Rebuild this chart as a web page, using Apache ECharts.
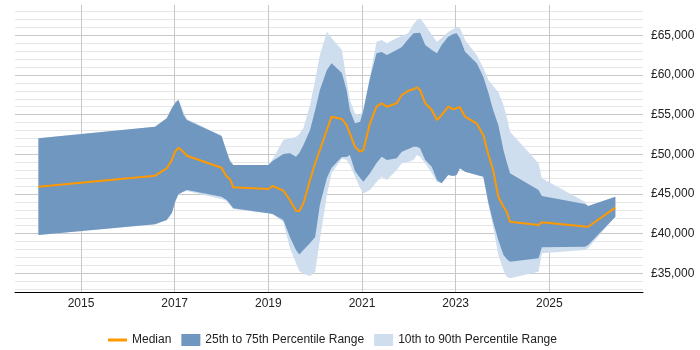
<!DOCTYPE html>
<html lang="en">
<head>
  <meta charset="utf-8">
</head>
<body style="margin: 0">
  <div id="container" style="width: 700px; height: 350px"></div>

  <script type="text/javascript" src="https://cdn.jsdelivr.net/npm/echarts@6/dist/echarts.min.js"></script>
  <script type="text/javascript">
// decimal years
var years = [2014.09, 2016.58, 2016.83, 2016.94, 2017.01, 2017.08, 2017.19, 2017.26, 2018.00, 2018.11,
  2018.18, 2018.25, 2019.00, 2019.09, 2019.32, 2019.46, 2019.59, 2019.66, 2019.75, 2019.89,
  2020.00, 2020.10, 2020.25, 2020.35, 2020.57, 2020.67, 2020.74, 2020.85, 2020.96, 2021.03,
  2021.17, 2021.31, 2021.42, 2021.53, 2021.74, 2021.85, 2021.99, 2022.10, 2022.17, 2022.24,
  2022.35, 2022.49, 2022.60, 2022.70, 2022.84, 2022.95, 2023.02, 2023.09, 2023.20, 2023.45,
  2023.59, 2023.70, 2023.80, 2023.91, 2024.02, 2024.09, 2024.16, 2024.77, 2024.84, 2025.76,
  2025.83, 2026.41];

var p10 = [39830, 41180, 41720, 42600, 44020, 44960, 45250, 45370, 44360, 44110,
  43610, 43100, 42540, 42470, 41470, 38190, 36300, 35290, 34910, 34660,
  35160, 39200, 44870, 47600, 49470, 49280, 48650, 47180, 45750, 45080,
  45500, 46510, 47180, 46760, 48020, 48860, 49030, 49280, 49910, 49700,
  48860, 47640, 46510, 46340, 47390, 47260, 47390, 48230, 47810, 47390,
  47180, 43610, 40870, 37310, 35410, 34570, 34370, 35200, 37520, 37940,
  38190, 42130];

var p25 = [39830, 41180, 41720, 42600, 44020, 44960, 45310, 45500, 44650, 44240,
  43730, 43190, 42560, 42470, 41720, 39570, 37940, 37370, 37940, 38820,
  39570, 43610, 47010, 48310, 49660, 49660, 49910, 47890, 47010, 46550,
  47600, 48900, 49700, 49280, 49490, 50330, 50670, 50960, 50960, 50760,
  49280, 48440, 46760, 46340, 47390, 47260, 47390, 48230, 47810, 47390,
  47180, 43860, 41470, 39200, 37310, 36800, 36460, 36890, 38280, 38350,
  38570, 42130];

var median = [45920, 47300, 48230, 49280, 50330, 50830, 50290, 49820, 48310, 47180,
  46890, 45840, 45630, 46000, 45410, 44240, 42890, 42850, 43820, 46760,
  48900, 50540, 53060, 54740, 54450, 53690, 52650, 50960, 50330, 50540,
  53910, 56000, 56430, 56000, 56430, 57470, 58020, 58190, 58450, 58110,
  56430, 55580, 54320, 54950, 56000, 55670, 55840, 55920, 54740, 53860,
  52430, 49910, 48020, 44650, 43390, 42760, 41500, 41090, 41430, 40900,
  40870, 43270];

var p75 = [52020, 53480, 54540, 55840, 56470, 56840, 54950, 54320, 52310, 50330,
  49150, 48650, 48650, 49150, 50040, 50130, 49700, 50160, 51170, 53060,
  55580, 58110, 60630, 61470, 60250, 58110, 55580, 53910, 54110, 55580,
  59580, 62730, 62900, 62520, 63150, 63530, 64530, 65250, 65290, 65330,
  63780, 63150, 62730, 63780, 64820, 65160, 65250, 64660, 62930, 61470,
  59780, 57730, 55580, 53690, 50540, 49030, 47600, 45500, 44740, 43730,
  43480, 44650];

var p90 = [52020, 53480, 54540, 55840, 56590, 56930, 55330, 54450, 52370, 50420,
  49280, 48650, 48650, 49370, 51800, 52020, 52180, 52560, 53310, 56210,
  59370, 62520, 65450, 64660, 63150, 59370, 56840, 55170, 54950, 55580,
  59800, 64190, 64410, 63990, 64660, 64910, 65290, 66420, 66930, 67140,
  66300, 65040, 64190, 64660, 65420, 65790, 66080, 65920, 64410, 62520,
  60880, 59370, 58610, 57850, 56210, 54700, 52850, 48860, 46970, 44030,
  43480, 44650];

var yearTicks = [2015, 2017, 2019, 2021, 2023, 2025];
var salaryTicks = [35000, 40000, 45000, 50000, 55000, 60000, 65000];
var minorTicks = [];
for (var v = 33000; v <= 68000; v += 1000) minorTicks.push(v);

function pairs(vals) {
  return years.map(function (x, i) { return [x, vals[i]]; });
}

// polygon between an upper and a lower percentile line
function bandRenderer(upper, lower, fill) {
  return function (params, api) {
    if (params.dataIndex !== 0) return;
    var pts = [];
    for (var i = 0; i < years.length; i++) pts.push(api.coord([years[i], upper[i]]));
    for (var j = years.length - 1; j >= 0; j--) pts.push(api.coord([years[j], lower[j]]));
    return {
      type: 'polygon',
      shape: { points: pts },
      style: { fill: fill }
    };
  };
}

var font = "'Liberation Sans', Arial, sans-serif";
var darkBand = '#7097bf';
var lightBand = '#cfdeee';

var dom = document.getElementById('container');
var myChart = echarts.init(dom, null, { renderer: 'canvas' });

var option = {
  animation: false,
  textStyle: { fontFamily: font },
  grid: { left: 15, right: 57, top: 5, bottom: 58 },
  legend: {
    top: 329,
    left: 103,
    itemWidth: 19,
    itemHeight: 12,
    itemGap: 10,
    textStyle: { fontFamily: font, fontSize: 12, color: '#222' },
    data: [
      { name: 'Median', icon: 'path://M0,0H19V3H0Z' },
      { name: '25th to 75th Percentile Range', icon: 'rect' },
      { name: '10th to 90th Percentile Range', icon: 'rect' }
    ]
  },
  xAxis: {
    type: 'value',
    min: 2013.59,
    max: 2027.0,
    axisLine: { show: true, lineStyle: { color: '#000', width: 1 } },
    axisTick: { show: false, customValues: yearTicks },
    axisLabel: {
      customValues: yearTicks,
      margin: 6,
      color: '#222',
      fontSize: 12,
      fontFamily: font,
      formatter: function (v) { return String(Math.round(v)); }
    },
    splitLine: { show: true, lineStyle: { color: '#c8c8c8', width: 1 } }
  },
  yAxis: [
    {
      type: 'value',
      position: 'right',
      min: 32640,
      max: 68820,
      axisLine: { show: false },
      axisTick: { show: false, customValues: minorTicks },
      axisLabel: {
        customValues: salaryTicks,
        margin: 8,
        color: '#222',
        fontSize: 12,
        fontFamily: font,
        formatter: function (v) {
          return '£' + String(Math.round(v)).replace(/\B(?=(\d{3})+(?!\d))/g, ',');
        }
      },
      splitLine: { show: true, lineStyle: { color: '#e6e6e6', width: 1 } }
    },
    {
      type: 'value',
      position: 'right',
      min: 32640,
      max: 68820,
      axisLine: { show: false },
      axisTick: { show: false, customValues: salaryTicks },
      axisLabel: { show: false },
      splitLine: { show: true, lineStyle: { color: '#c8c8c8', width: 1 } }
    }
  ],
  series: [
    {
      name: '10th to 90th Percentile Range',
      type: 'custom',
      renderItem: bandRenderer(p90, p10, lightBand),
      data: pairs(p90),
      encode: { x: 0, y: 1 },
      silent: true,
      color: lightBand,
      itemStyle: { color: lightBand }
    },
    {
      name: '25th to 75th Percentile Range',
      type: 'custom',
      renderItem: bandRenderer(p75, p25, darkBand),
      data: pairs(p75),
      encode: { x: 0, y: 1 },
      silent: true,
      color: darkBand,
      itemStyle: { color: darkBand }
    },
    {
      name: 'Median',
      type: 'line',
      data: pairs(median),
      symbol: 'none',
      color: '#ff9900',
      itemStyle: { color: '#ff9900' },
      lineStyle: { color: '#ff9900', width: 2 }
    }
  ]
};

myChart.setOption(option);
window.addEventListener('resize', myChart.resize);
  </script>
</body>
</html>
